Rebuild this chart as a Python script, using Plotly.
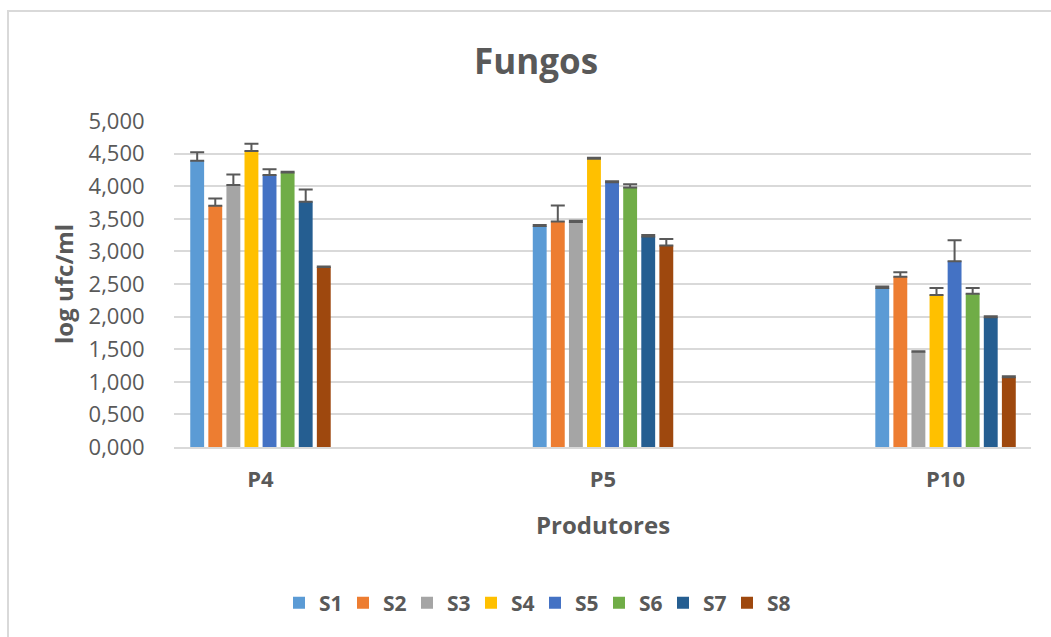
import plotly.graph_objects as go

# Producers (x categories) and sample series
produtores = ["P4", "P5", "P10"]
series = ["S1", "S2", "S3", "S4", "S5", "S6", "S7", "S8"]

# Mean log ufc/ml per series, one value per producer
s1 = [4.39, 3.39, 2.44]
s2 = [3.70, 3.46, 2.61]
s3 = [4.02, 3.45, 1.46]
s4 = [4.54, 4.42, 2.33]
s5 = [4.17, 4.06, 2.85]
s6 = [4.21, 3.98, 2.35]
s7 = [3.76, 3.23, 1.99]
s8 = [2.76, 3.09, 1.07]

# Upper error (standard deviation) per series
e1 = [0.13, 0.015, 0.02]
e2 = [0.11, 0.245, 0.07]
e3 = [0.16, 0.02, 0.01]
e4 = [0.11, 0.015, 0.11]
e5 = [0.09, 0.015, 0.32]
e6 = [0.01, 0.05, 0.09]
e7 = [0.19, 0.02, 0.015]
e8 = [0.01, 0.10, 0.015]

values = [s1, s2, s3, s4, s5, s6, s7, s8]
errors = [e1, e2, e3, e4, e5, e6, e7, e8]
colors = ["#5B9BD5", "#ED7D31", "#A5A5A5", "#FFC000",
          "#4472C4", "#70AD47", "#255E91", "#9E480E"]

y_ticks = [0, 0.5, 1, 1.5, 2, 2.5, 3, 3.5, 4, 4.5, 5]

W, H = 1051, 637
ML, MR, MT, MB = 174, 20, 121, 190
PW, PH = W - ML - MR, H - MT - MB
FONT = "Open Sans"
GREY = "#595959"


def px_x(px):
    return (px - ML) / PW


def px_y(py):
    return (H - MB - py) / PH


xpos = list(range(len(produtores)))

fig = go.Figure()
for name, vals, errs, col in zip(series, values, errors, colors):
    fig.add_trace(go.Bar(
        name=f"<b>{name}</b>",
        x=xpos,
        y=vals,
        marker=dict(color=col, line=dict(width=0)),
        error_y=dict(type="data", array=errs, symmetric=False,
                     arrayminus=[0] * len(errs),
                     color="#595959", thickness=2, width=7),
    ))

fig.update_layout(
    width=W, height=H,
    margin=dict(l=ML, r=MR, t=MT, b=MB, pad=0),
    paper_bgcolor="white", plot_bgcolor="white",
    barmode="group", bargap=0.5776, bargroupgap=0.233,
    separators=",.",
    font=dict(family=FONT, color=GREY),
    title=dict(text="<b>Fungos</b>", x=536 / W, xref="container", xanchor="center",
               y=1 - 62 / H, yref="container", yanchor="middle",
               font=dict(family=FONT, size=35, color=GREY)),
    showlegend=True,
    legend=dict(orientation="h", x=px_x(535), xanchor="center",
                y=px_y(603), yanchor="middle",
                font=dict(family=FONT, size=21, color=GREY),
                itemwidth=30, entrywidth=19, traceorder="normal"),
    xaxis=dict(range=[-0.2525, 2.2495], tickvals=xpos, ticktext=[f"<b>{p}</b>" for p in produtores],
               showgrid=False, zeroline=False,
               showline=True, linecolor="#D9D9D9", linewidth=2,
               ticks="outside", ticklen=12, tickcolor="rgba(0,0,0,0)",
               tickfont=dict(family=FONT, size=22, color=GREY)),
    yaxis=dict(range=[0, 5], tickvals=y_ticks, tickformat=".3f",
               showgrid=True, gridcolor="#D9D9D9", gridwidth=1.5,
               zeroline=False, showline=False,
               ticks="outside", ticklen=24, tickcolor="rgba(0,0,0,0)",
               tickfont=dict(family=FONT, size=22, color=GREY)),
)

# Axis titles
fig.add_annotation(text="<b>Produtores</b>", xref="paper", yref="paper",
                   x=px_x(602.5), y=px_y(524), xanchor="center", yanchor="middle",
                   showarrow=False, font=dict(family=FONT, size=24, color=GREY))
fig.add_annotation(text="<b>log ufc/ml</b>", xref="paper", yref="paper",
                   x=px_x(63), y=px_y(284), xanchor="center", yanchor="middle",
                   textangle=-90, showarrow=False,
                   font=dict(family=FONT, size=24, color=GREY))

# Chart frame (left and top edges visible)
fig.add_shape(type="rect", xref="paper", yref="paper",
              x0=px_x(8), x1=px_x(1062), y0=px_y(660), y1=px_y(11),
              line=dict(color="#D9D9D9", width=2), fillcolor="rgba(0,0,0,0)",
              layer="below")

fig.write_html("out.html")
